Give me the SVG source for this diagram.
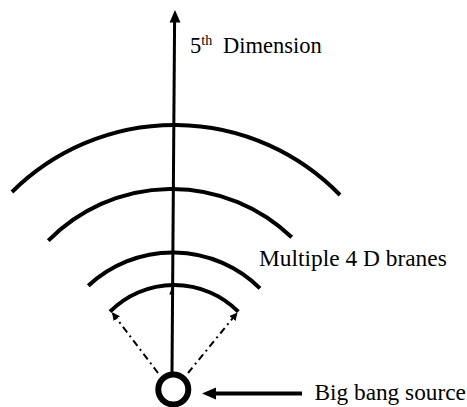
<svg xmlns="http://www.w3.org/2000/svg" width="467" height="407" viewBox="0 0 467 407">
<style>
.arc{fill:none;stroke:#000;stroke-width:4}
.dd{fill:none;stroke:#000;stroke-width:2;stroke-dasharray:7 4 2 4}
</style>
<defs>
<marker id="sm" viewBox="0 0 10 10" refX="9" refY="5" markerWidth="4" markerHeight="4" markerUnits="strokeWidth" orient="auto">
<path d="M0,0 L10,5 L0,10 Z" fill="#000"/>
</marker>
</defs>
<rect width="467" height="407" fill="#fff"/>
<g id="branes">
<path class="arc" d="M12,192 A230.6,230.6 0 0 1 340,195"/>
<path class="arc" d="M48.3,240.7 A173,173 0 0 1 291.7,237.3"/>
<path class="arc" d="M88.3,285.7 A124,124 0 0 1 260,288.3"/>
<path class="arc" d="M110,311.7 A90.4,90.4 0 0 1 238.3,311.7"/>
</g>
<g id="source">
<circle cx="173.3" cy="389.5" r="15" fill="#fff" stroke="#000" stroke-width="6"/>
</g>
<g id="connectors">
<line x1="172" y1="372" x2="174.6" y2="20" stroke="#000" stroke-width="3"/>
<polygon points="175,10 169.5,22.5 180.5,22.5" fill="#000"/>
<polygon points="171.8,288 169.3,294.5 174.3,294.5" fill="#000"/>
<line class="dd" x1="158" y1="373" x2="112.5" y2="313" marker-end="url(#sm)"/>
<line class="dd" x1="188" y1="373" x2="237" y2="313" marker-end="url(#sm)"/>
<line x1="302" y1="393.5" x2="214" y2="393.5" stroke="#000" stroke-width="4"/>
<polygon points="202,393.5 216,387.5 216,399.5" fill="#000"/>
</g>
<g id="dimension-label">
<text x="190" y="53.3" font-size="22.5" font-family="'Liberation Serif', serif">5<tspan font-size="14" dy="-8">th</tspan><tspan x="223" dy="8">Dimension</tspan></text>
</g>
<g id="branes-label">
<text x="259" y="266" font-size="23.4" font-family="'Liberation Serif', serif">Multiple 4 D branes</text>
</g>
<g id="source-label">
<text x="314.5" y="399.5" font-size="23.3" font-family="'Liberation Serif', serif">Big bang source</text>
</g>
</svg>
